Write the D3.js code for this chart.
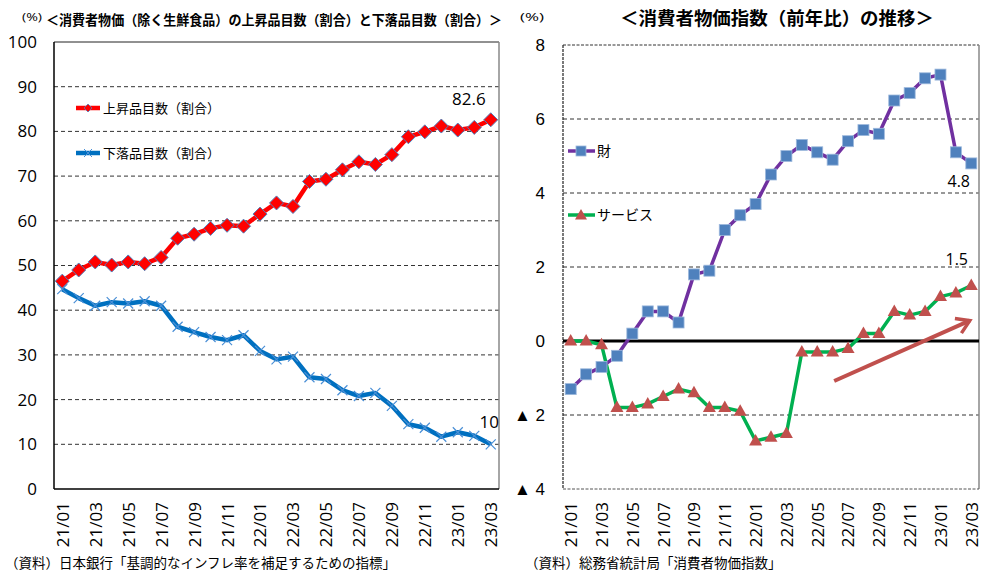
<!DOCTYPE html>
<html>
<head>
<meta charset="utf-8">
<script src="https://cdn.jsdelivr.net/npm/d3@7"></script>
<style>
  body { margin: 0; background: #fff; }
  svg { font-family: "Open Sans", "Noto Sans CJK JP", sans-serif; }
</style>
</head>
<body>
<svg></svg>
<script>
const width = 985;
const height = 572;
const svg = d3.select("svg").attr("width", width).attr("height", height);

// データ
const months = ["21/01","21/02","21/03","21/04","21/05","21/06","21/07","21/08","21/09","21/10","21/11","21/12",
  "22/01","22/02","22/03","22/04","22/05","22/06","22/07","22/08","22/09","22/10","22/11","22/12",
  "23/01","23/02","23/03"];
const upRatio = [46.5, 49, 50.8, 50.1, 50.8, 50.4, 51.8, 56.1, 57, 58.3, 59, 58.8, 61.5, 64, 63.2,
  68.8, 69.3, 71.4, 73.2, 72.6, 74.8, 78.8, 79.9, 81.2, 80.3, 80.9, 82.6];
const downRatio = [44.7, 42.7, 41, 41.8, 41.5, 42, 41, 36.3, 35.1, 34, 33.3, 34.4, 30.9, 29, 29.6,
  25, 24.6, 22.1, 20.8, 21.5, 18.6, 14.5, 13.7, 11.7, 12.7, 11.9, 10.0];
const goods = [-1.3, -0.9, -0.7, -0.4, 0.2, 0.8, 0.8, 0.5, 1.8, 1.9, 3.0, 3.4, 3.7, 4.5, 5.0,
  5.3, 5.1, 4.9, 5.4, 5.7, 5.6, 6.5, 6.7, 7.1, 7.2, 5.1, 4.8];
const services = [0, 0, -0.1, -1.8, -1.8, -1.7, -1.5, -1.3, -1.4, -1.8, -1.8, -1.9, -2.7, -2.6, -2.5,
  -0.3, -0.3, -0.3, -0.2, 0.2, 0.2, 0.8, 0.7, 0.8, 1.2, 1.3, 1.5];
const leftTicks = [0, 10, 20, 30, 40, 50, 60, 70, 80, 90, 100];
const rightTicks = [-4, -2, 0, 2, 4, 6, 8];
const monthTicks = months.filter((d, i) => i % 2 === 0);
// 矢印 (月インデックス, 値)
const trendArrow = [{ i: 17.1, v: -1.08 }, { i: 25.9, v: 0.55 }];

// ---------- 左グラフ ----------
const L = { left: 54, right: 499, top: 42, bottom: 489 };
const xL = d3.scalePoint().domain(months).range([L.left, L.right]).padding(0.5);
const yL = d3.scaleLinear().domain([0, 100]).range([L.bottom, L.top]);

const left = svg.append("g");

// グリッド
left.selectAll(".grid").data(leftTicks.filter(d => d > 0 && d < 100)).join("line")
  .attr("x1", L.left).attr("x2", L.right)
  .attr("y1", d => yL(d)).attr("y2", d => yL(d))
  .attr("stroke", "#333").attr("stroke-width", 1).attr("stroke-dasharray", "4,3");

// 枠
left.append("line").attr("x1", L.left).attr("x2", L.right).attr("y1", L.top).attr("y2", L.top)
  .attr("stroke", "#222").attr("stroke-width", 1);
left.append("line").attr("x1", L.right).attr("x2", L.right).attr("y1", L.top).attr("y2", L.bottom)
  .attr("stroke", "#888").attr("stroke-width", 1.5);
left.append("line").attr("x1", L.left).attr("x2", L.left).attr("y1", L.top).attr("y2", L.bottom)
  .attr("stroke", "#000").attr("stroke-width", 1.5);
left.append("line").attr("x1", L.left).attr("x2", L.right).attr("y1", L.bottom).attr("y2", L.bottom)
  .attr("stroke", "#000").attr("stroke-width", 1.5);

// Y軸
const yAxisL = left.append("g").attr("transform", `translate(${L.left},0)`)
  .call(d3.axisLeft(yL).tickValues(leftTicks).tickSize(0).tickPadding(17));
yAxisL.select(".domain").remove();
yAxisL.selectAll("text").attr("font-size", 17).attr("fill", "#000")
  .style("font-family", "'Open Sans', sans-serif");

// X軸
const xAxisL = left.append("g").attr("transform", `translate(0,${L.bottom})`)
  .call(d3.axisBottom(xL).tickValues(monthTicks).tickSize(0));
xAxisL.select(".domain").remove();
xAxisL.selectAll("text")
  .attr("font-size", 17).attr("fill", "#000")
  .attr("transform", "rotate(-90)")
  .attr("text-anchor", "end")
  .attr("x", -13).attr("y", 0).attr("dy", "0.35em")
  .style("font-family", "'Open Sans', sans-serif");

const lineL = d3.line().x((d, i) => xL(months[i])).y(d => yL(d));

// 下落品目数
left.append("path").datum(downRatio).attr("d", lineL)
  .attr("fill", "none").attr("stroke", "#0070C0").attr("stroke-width", 4.5)
  .attr("stroke-linejoin", "round");
left.selectAll(".xmark").data(downRatio).join("path")
  .attr("transform", (d, i) => `translate(${xL(months[i])},${yL(d)})`)
  .attr("d", "M-5,-5L5,5M-5,5L5,-5")
  .attr("stroke", "#4A8FD6").attr("stroke-width", 1.2).attr("fill", "none");

// 上昇品目数
left.append("path").datum(upRatio).attr("d", lineL)
  .attr("fill", "none").attr("stroke", "#FF0000").attr("stroke-width", 4.5)
  .attr("stroke-linejoin", "round");
left.selectAll(".dmark").data(upRatio).join("path")
  .attr("transform", (d, i) => `translate(${xL(months[i])},${yL(d)})`)
  .attr("d", "M0,-7L7,0L0,7L-7,0Z")
  .attr("fill", "#FF0000").attr("stroke", "#4F81BD").attr("stroke-width", 1);

// 値ラベル
left.append("text").attr("x", xL(months[26]) - 5).attr("y", yL(upRatio[26]) - 15)
  .attr("text-anchor", "end").attr("font-size", 17).text(upRatio[26].toFixed(1));
left.append("text").attr("x", L.right).attr("y", yL(downRatio[26]) - 16)
  .attr("text-anchor", "end").attr("font-size", 17).text(downRatio[26]);

// 凡例
const legL = left.append("g").attr("transform", "translate(76,108)");
legL.append("line").attr("x1", 0).attr("x2", 24).attr("stroke", "#FF0000").attr("stroke-width", 4.5);
legL.append("path").attr("transform", "translate(12,0)").attr("d", "M0,-4L4,0L0,4L-4,0Z")
  .attr("fill", "#FF0000").attr("stroke", "#4F81BD").attr("stroke-width", 0.8);
legL.append("text").attr("x", 27).attr("dy", "0.35em").attr("font-size", 13).text("上昇品目数（割合）");
legL.append("line").attr("x1", 0).attr("x2", 24).attr("y1", 45).attr("y2", 45)
  .attr("stroke", "#0070C0").attr("stroke-width", 4.5);
legL.append("path").attr("transform", "translate(12,45)").attr("d", "M-4,-4L4,4M-4,4L4,-4")
  .attr("stroke", "#4A8FD6").attr("stroke-width", 1);
legL.append("text").attr("x", 27).attr("y", 45).attr("dy", "0.35em").attr("font-size", 13).text("下落品目数（割合）");

// タイトル
svg.append("text").attr("x", 22).attr("y", 21).attr("font-size", 10)
  .attr("textLength", 20).attr("lengthAdjust", "spacingAndGlyphs").text("(%)");
svg.append("text").attr("x", 46).attr("y", 25).attr("font-size", 13.5).attr("font-weight", "bold")
  .attr("textLength", 456).attr("lengthAdjust", "spacingAndGlyphs")
  .text("＜消費者物価（除く生鮮食品）の上昇品目数（割合）と下落品目数（割合）＞");
svg.append("text").attr("x", 5).attr("y", 568).attr("font-size", 13.5)
  .text("（資料）日本銀行「基調的なインフレ率を補足するための指標」");

// ---------- 右グラフ ----------
const R = { left: 563, right: 979, top: 45, bottom: 489 };
const xR = d3.scalePoint().domain(months).range([R.left, R.right]).padding(0.5);
const yR = d3.scaleLinear().domain([-4, 8]).range([R.bottom, R.top]);
const xIdx = d3.scaleLinear().domain([0, months.length - 1]).range([xR(months[0]), xR(months[months.length - 1])]);

const right = svg.append("g");

right.selectAll(".grid").data(rightTicks.filter(d => d !== 0 && d > -4 && d < 8)).join("line")
  .attr("x1", R.left).attr("x2", R.right)
  .attr("y1", d => yR(d)).attr("y2", d => yR(d))
  .attr("stroke", "#333").attr("stroke-width", 1).attr("stroke-dasharray", "4,3");

// 枠
right.append("line").attr("x1", R.left).attr("x2", R.right).attr("y1", R.top).attr("y2", R.top)
  .attr("stroke", "#333").attr("stroke-width", 1).attr("stroke-dasharray", "3,1.5");
right.append("line").attr("x1", R.left).attr("x2", R.left).attr("y1", R.top).attr("y2", R.bottom)
  .attr("stroke", "#222").attr("stroke-width", 1.2).attr("stroke-dasharray", "3,1");
right.append("line").attr("x1", R.right).attr("x2", R.right).attr("y1", R.top).attr("y2", R.bottom)
  .attr("stroke", "#888").attr("stroke-width", 1.5);
right.append("line").attr("x1", R.left).attr("x2", R.right).attr("y1", R.bottom).attr("y2", R.bottom)
  .attr("stroke", "#555").attr("stroke-width", 1).attr("stroke-dasharray", "3,1.5");
// ゼロ線
right.append("line").attr("x1", R.left).attr("x2", R.right).attr("y1", yR(0)).attr("y2", yR(0))
  .attr("stroke", "#000").attr("stroke-width", 3);

const yAxisR = right.append("g").attr("transform", `translate(${R.left},0)`)
  .call(d3.axisLeft(yR).tickValues(rightTicks).tickSize(0).tickPadding(18)
    .tickFormat(d => d < 0 ? "▲ " + Math.abs(d) : d));
yAxisR.select(".domain").remove();
yAxisR.selectAll("text").attr("font-size", 17).attr("fill", "#000");

const xAxisR = right.append("g").attr("transform", `translate(0,${R.bottom})`)
  .call(d3.axisBottom(xR).tickValues(monthTicks).tickSize(0));
xAxisR.select(".domain").remove();
xAxisR.selectAll("text")
  .attr("font-size", 17).attr("fill", "#000")
  .attr("transform", "rotate(-90)")
  .attr("text-anchor", "end")
  .attr("x", -13).attr("y", 0).attr("dy", "0.35em")
  .style("font-family", "'Open Sans', sans-serif");

const lineR = d3.line().x((d, i) => xR(months[i])).y(d => yR(d));

// サービス
right.append("path").datum(services).attr("d", lineR)
  .attr("fill", "none").attr("stroke", "#00B050").attr("stroke-width", 3.5)
  .attr("stroke-linejoin", "round");
right.selectAll(".tmark").data(services).join("path")
  .attr("transform", (d, i) => `translate(${xR(months[i])},${yR(d)})`)
  .attr("d", "M0,-7L6.5,4.5L-6.5,4.5Z")
  .attr("fill", "#C0504D");

// 財
right.append("path").datum(goods).attr("d", lineR)
  .attr("fill", "none").attr("stroke", "#7030A0").attr("stroke-width", 3.5)
  .attr("stroke-linejoin", "round");
right.selectAll(".smark").data(goods).join("rect")
  .attr("x", (d, i) => xR(months[i]) - 5.5).attr("y", d => yR(d) - 5.5)
  .attr("width", 11).attr("height", 11)
  .attr("fill", "#4F81BD").attr("stroke", "#9DB9DD").attr("stroke-width", 0.8);

// 矢印
const ax1 = xIdx(trendArrow[0].i), ay1 = yR(trendArrow[0].v);
const ax2 = xIdx(trendArrow[1].i), ay2 = yR(trendArrow[1].v);
const ang = Math.atan2(ay2 - ay1, ax2 - ax1);
const head = 15;
right.append("line").attr("x1", ax1).attr("y1", ay1).attr("x2", ax2).attr("y2", ay2)
  .attr("stroke", "#C0504D").attr("stroke-width", 4).attr("stroke-linecap", "butt");
right.append("path")
  .attr("d", `M${ax2 + head * Math.cos(ang + Math.PI * 0.82)},${ay2 + head * Math.sin(ang + Math.PI * 0.82)}
    L${ax2},${ay2}
    L${ax2 + head * Math.cos(ang - Math.PI * 0.82)},${ay2 + head * Math.sin(ang - Math.PI * 0.82)}`)
  .attr("fill", "none").attr("stroke", "#C0504D").attr("stroke-width", 3.5).attr("stroke-linejoin", "miter");

// 値ラベル
right.append("text").attr("x", R.right - 9).attr("y", yR(goods[26]) + 24)
  .attr("text-anchor", "end").attr("font-size", 16).text(goods[26].toFixed(1));
right.append("text").attr("x", R.right - 11).attr("y", yR(services[26]) - 21)
  .attr("text-anchor", "end").attr("font-size", 16).text(services[26].toFixed(1));

// 凡例
const legR = right.append("g").attr("transform", "translate(568,151)");
legR.append("line").attr("x1", 0).attr("x2", 27).attr("stroke", "#7030A0").attr("stroke-width", 3.5);
legR.append("rect").attr("x", 8).attr("y", -5).attr("width", 10).attr("height", 10)
  .attr("fill", "#4F81BD").attr("stroke", "#9DB9DD").attr("stroke-width", 0.8);
legR.append("text").attr("x", 29).attr("dy", "0.35em").attr("font-size", 14).text("財");
legR.append("line").attr("x1", 0).attr("x2", 27).attr("y1", 64).attr("y2", 64)
  .attr("stroke", "#00B050").attr("stroke-width", 3.5);
legR.append("path").attr("transform", "translate(13,64)").attr("d", "M0,-6L6,4.5L-6,4.5Z").attr("fill", "#C0504D");
legR.append("text").attr("x", 29).attr("y", 64).attr("dy", "0.35em").attr("font-size", 14).text("サービス");

// タイトル
svg.append("text").attr("x", 520).attr("y", 21).attr("font-size", 10)
  .attr("textLength", 24).attr("lengthAdjust", "spacingAndGlyphs").text("(%)");
svg.append("text").attr("x", 620).attr("y", 25).attr("font-size", 18).attr("font-weight", "bold")
  .attr("textLength", 314).attr("lengthAdjust", "spacingAndGlyphs")
  .text("＜消費者物価指数（前年比）の推移＞");
svg.append("text").attr("x", 525).attr("y", 568).attr("font-size", 13.5)
  .text("（資料）総務省統計局「消費者物価指数」");
</script>
</body>
</html>
